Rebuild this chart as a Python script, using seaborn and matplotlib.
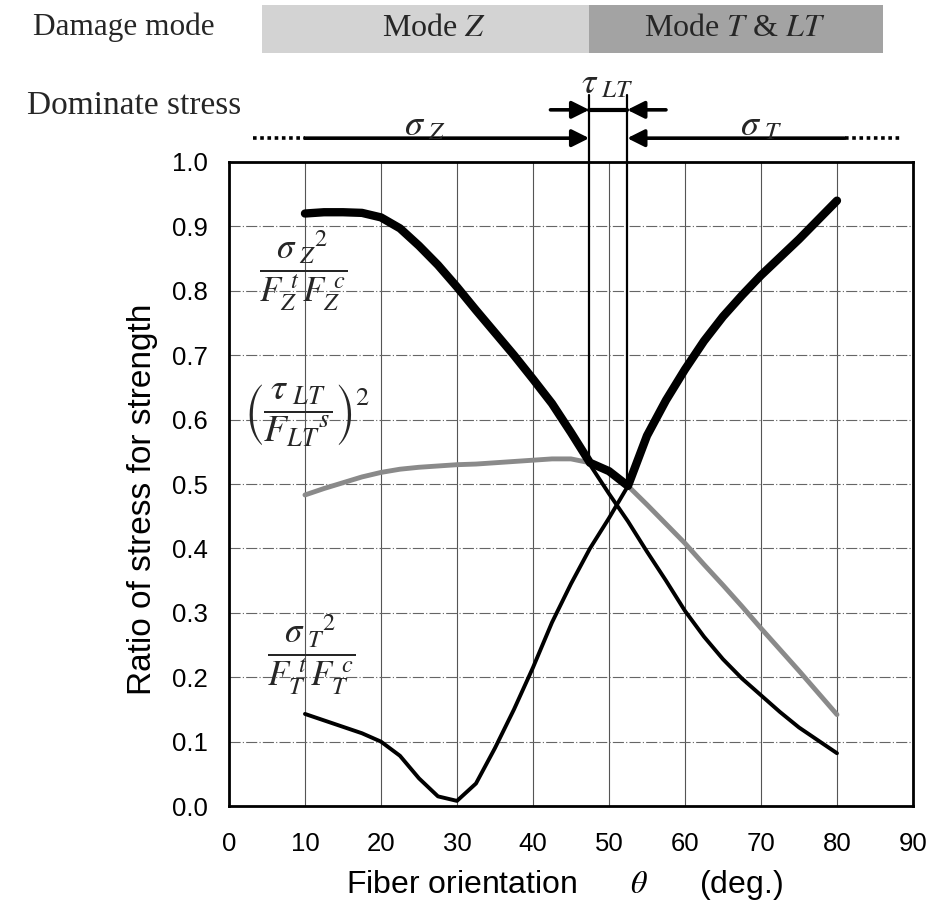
import numpy as np
import pandas as pd
import matplotlib
matplotlib.use('Agg')
import matplotlib.pyplot as plt
import seaborn as sns
from matplotlib.patches import Rectangle

# ---------------- data ----------------
theta = [10, 12.5, 15, 17.5, 20, 22.5, 25, 27.5, 30, 32.5, 35, 37.5, 40, 42.5, 45,
         47.5, 50, 52.5, 55, 57.5, 60, 62.5, 65, 67.5, 70, 72.5, 75, 77.5, 80]
sigma_z = [0.920, 0.922, 0.922, 0.921, 0.914, 0.897, 0.870, 0.840, 0.806, 0.770,
           0.735, 0.700, 0.663, 0.625, 0.580, 0.530, 0.485, 0.442, 0.395, 0.350,
           0.303, 0.263, 0.228, 0.198, 0.172, 0.146, 0.122, 0.102, 0.082]
sigma_t = [0.143, 0.133, 0.123, 0.113, 0.100, 0.078, 0.043, 0.015, 0.008, 0.035,
           0.090, 0.150, 0.215, 0.285, 0.345, 0.400, 0.447, 0.497, 0.575, 0.630,
           0.678, 0.722, 0.760, 0.793, 0.824, 0.852, 0.880, 0.910, 0.940]
tau_lt = [0.483, 0.493, 0.502, 0.511, 0.518, 0.523, 0.526, 0.528, 0.530, 0.531,
          0.533, 0.535, 0.537, 0.539, 0.539, 0.533, 0.520, 0.497, 0.468, 0.438,
          0.408, 0.375, 0.343, 0.310, 0.276, 0.243, 0.210, 0.176, 0.142]

x_ticks = [0, 10, 20, 30, 40, 50, 60, 70, 80, 90]
y_ticks = [0.0, 0.1, 0.2, 0.3, 0.4, 0.5, 0.6, 0.7, 0.8, 0.9, 1.0]
y_tick_labels = [f'{v:.1f}' for v in y_ticks]

mode_labels = [r'Mode $Z$', r'Mode $T$ & $LT$']
mode_bounds = [4.3, 47.4, 86.0]
stress_bounds = [47.4, 52.4]
stress_labels = [r'$\sigma_{\ Z}$', r'$\tau_{\ LT}$', r'$\sigma_{\ T}$']

# ---------------- style ----------------
sns.set_theme(style='white')
plt.rcParams['font.family'] = ['Liberation Sans', 'DejaVu Sans']
plt.rcParams['mathtext.fontset'] = 'stix'

fig = plt.figure(figsize=(9.3, 9.01), dpi=100)
ax = fig.add_axes([0.2462, 0.1054, 0.7355, 0.7148])

df = pd.DataFrame({'theta': theta, 'sz': sigma_z, 'st': sigma_t, 'tau': tau_lt})
df['env'] = df[['sz', 'st', 'tau']].max(axis=1)

sns.lineplot(data=df, x='theta', y='tau', color='#8a8a8a', lw=3.5, ax=ax, zorder=3)
sns.lineplot(data=df, x='theta', y='sz', color='black', lw=2.8, ax=ax, zorder=4)
sns.lineplot(data=df, x='theta', y='st', color='black', lw=2.8, ax=ax, zorder=4)
sns.lineplot(data=df, x='theta', y='env', color='black', lw=6.0, ax=ax, zorder=5,
             solid_capstyle='round')

ax.set_xlim(0, 90)
ax.set_ylim(0, 1.0)
ax.set_xticks(x_ticks)
ax.set_xticklabels([str(v) for v in x_ticks])
ax.set_yticks(y_ticks)
ax.set_yticklabels(y_tick_labels)
ax.tick_params(axis='both', direction='out', length=6, width=1.2, colors='black',
               labelsize=18.5)
ax.tick_params(axis='y', pad=9)
ax.tick_params(axis='x', pad=13)

ax.xaxis.grid(True, color='#555555', lw=0.8, ls='-')
ax.yaxis.grid(True, color='#666666', lw=0.8, ls=(0, (10, 2, 1, 2)))
ax.set_axisbelow(True)
for s in ax.spines.values():
    s.set_visible(True)
    s.set_color('black')
    s.set_linewidth(2.0)

ax.set_xlabel(r'Fiber orientation      $\theta$      (deg.)', fontsize=23, color='black')
ax.set_ylabel('Ratio of stress for strength', fontsize=24, color='black')
ax.xaxis.set_label_coords(0.491, -0.123)
ax.xaxis.label.set_va('center')
ax.yaxis.set_label_coords(-0.127, 0.477)
ax.yaxis.label.set_va('center')

# ---------------- formula labels ----------------
ax.text(9.8, 0.832, r'$\dfrac{\sigma_{\ Z}{}^{2}}{F_{Z}^{\ t}\,F_{Z}^{\ c}}$',
        fontsize=25, ha='center', va='center', zorder=6)
ax.text(10.3, 0.606, r'$\left(\dfrac{\tau_{\ LT}}{F_{LT}{}^{s}}\right)^{2}$',
        fontsize=27, ha='center', va='center', zorder=6)
ax.text(10.8, 0.236, r'$\dfrac{\sigma_{\ T}{}^{2}}{F_{T}^{\ t}\,F_{T}^{\ c}}$',
        fontsize=25, ha='center', va='center', zorder=6)

# ---------------- header: damage mode ----------------
ax.add_patch(Rectangle((mode_bounds[0], 1.169), mode_bounds[1] - mode_bounds[0], 0.074,
                       facecolor='#d3d3d3', edgecolor='none', clip_on=False))
ax.add_patch(Rectangle((mode_bounds[1], 1.169), mode_bounds[2] - mode_bounds[1], 0.074,
                       facecolor='#a3a3a3', edgecolor='none', clip_on=False))
ax.text(27.0, 1.207, mode_labels[0], fontsize=23, family='Liberation Serif',
        ha='center', va='center', clip_on=False)
ax.text(66.5, 1.207, mode_labels[1], fontsize=23, family='Liberation Serif',
        ha='center', va='center', clip_on=False)

fig.text(33 / 930, 1 - 27 / 901, 'Damage mode', fontsize=22.5, family='Liberation Serif',
         ha='left', va='center')
fig.text(27 / 930, 1 - 106 / 901, 'Dominate stress', fontsize=24,
         family='Liberation Serif', ha='left', va='center')

# ---------------- header: dominating stress ----------------
arrow_kw = dict(arrowstyle='-|>', lw=2.6, color='black', mutation_scale=26,
                shrinkA=0, shrinkB=0)
y_low, y_up = 1.037, 1.081
ax.annotate('', xy=(stress_bounds[0], y_low), xytext=(10.0, y_low),
            arrowprops=arrow_kw, annotation_clip=False)
ax.annotate('', xy=(stress_bounds[1], y_low), xytext=(81.0, y_low),
            arrowprops=arrow_kw, annotation_clip=False)
ax.plot([3.2, 10.0], [y_low, y_low], color='black', lw=2.6, ls=(0, (1, 1)),
        clip_on=False)
ax.plot([81.0, 88.4], [y_low, y_low], color='black', lw=2.6, ls=(0, (1, 1)),
        clip_on=False)
ax.annotate('', xy=(stress_bounds[0], y_up), xytext=(42.3, y_up),
            arrowprops=arrow_kw, annotation_clip=False)
ax.annotate('', xy=(stress_bounds[1], y_up), xytext=(57.5, y_up),
            arrowprops=arrow_kw, annotation_clip=False)
ax.plot(stress_bounds, [y_up, y_up], color='black', lw=3.0, clip_on=False)

for xb in stress_bounds:
    yc = float(np.interp(xb, df['theta'], df['env']))
    ax.plot([xb, xb], [yc, 1.104], color='black', lw=1.6, clip_on=False, zorder=6)

ax.text(25.8, 1.057, stress_labels[0], fontsize=26, ha='center', va='center')
ax.text(49.8, 1.122, stress_labels[1], fontsize=26, ha='center', va='center')
ax.text(70.0, 1.057, stress_labels[2], fontsize=26, ha='center', va='center')

fig.savefig('out.png', dpi=100)
